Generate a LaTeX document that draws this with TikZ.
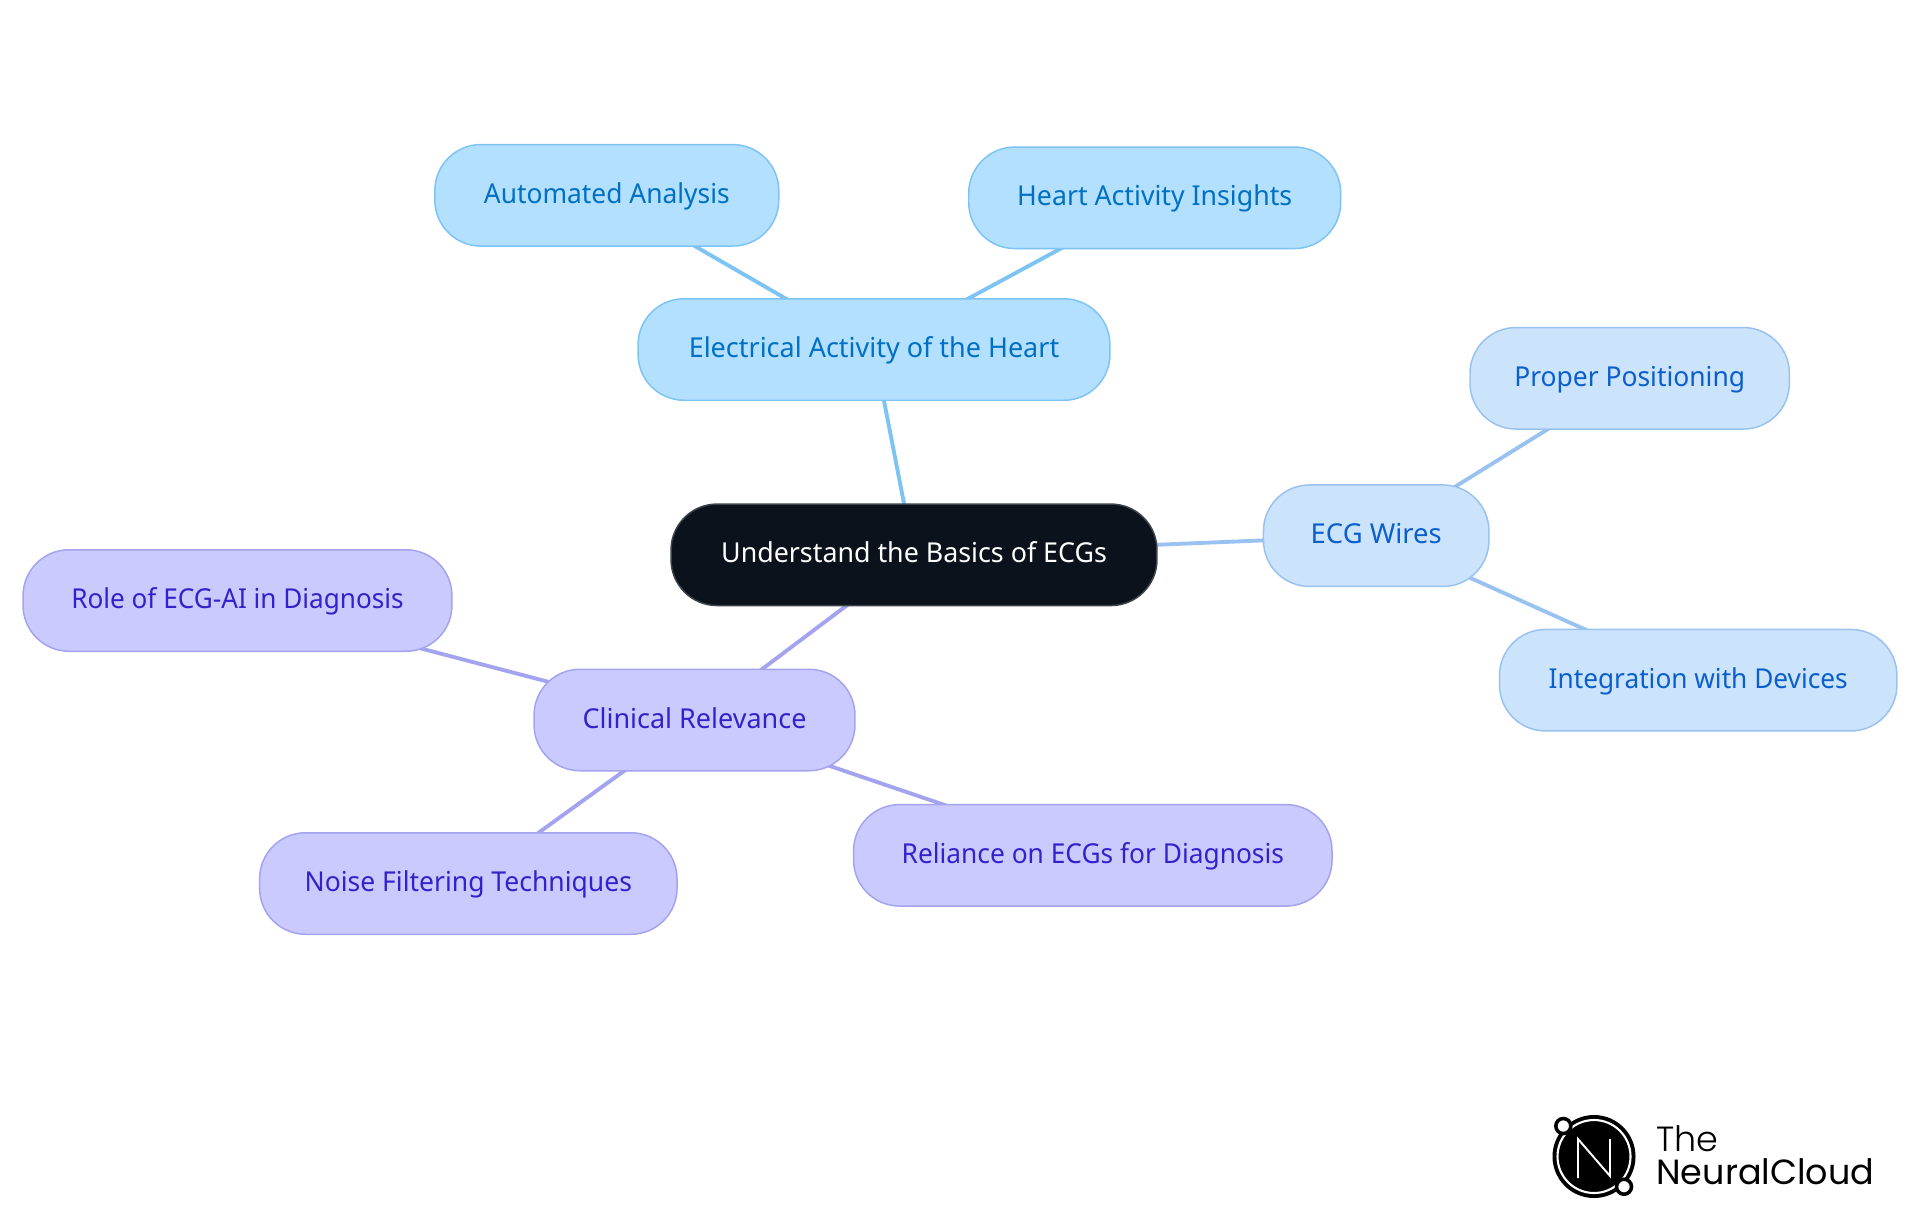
\documentclass[tikz,border=0pt]{standalone}
\usepackage{fontspec}
\setmainfont{Noto Sans}
\newfontfamily\logolight{Poppins Light}
\newfontfamily\logoreg{Poppins}
\usetikzlibrary{backgrounds}
\definecolor{blueFill}{HTML}{B3E0FF}
\definecolor{blueLine}{HTML}{7DC4F5}
\definecolor{blueText}{HTML}{0070C4}
\definecolor{wireFill}{HTML}{CCE3FC}
\definecolor{wireLine}{HTML}{99C2F0}
\definecolor{wireText}{HTML}{0A5FCC}
\definecolor{purpFill}{HTML}{CACAFF}
\definecolor{purpLine}{HTML}{A3A3F0}
\definecolor{purpText}{HTML}{3322CC}
\definecolor{rootFill}{HTML}{0B121B}
\definecolor{rootLine}{HTML}{3C434B}
\newcommand{\fitx}[2]{\scalebox{#1}[1]{#2}}
\tikzset{
  x=0.02cm,y=-0.02cm,
  pill/.style={rectangle,rounded corners=0.92cm,draw,line width=0.85pt,inner sep=0pt,
    minimum height=2.03cm,text height=12.7pt,text depth=3.4pt,font=\fontsize{15.6}{18}\selectfont},
  bluenode/.style={pill,fill=blueFill,draw=blueLine,text=blueText},
  wirenode/.style={pill,fill=wireFill,draw=wireLine,text=wireText},
  purpnode/.style={pill,fill=purpFill,draw=purpLine,text=purpText},
  rootnode/.style={pill,fill=rootFill,draw=rootLine,text=white},
  bluelink/.style={draw=blueLine,line width=2.2pt},
  wirelink/.style={draw=wireLine,line width=2.2pt},
  purplink/.style={draw=purpLine,line width=2.2pt},
}
\begin{document}
\begin{tikzpicture}
\useasboundingbox (0,0) rectangle (1920,1215);
\node[rootnode,minimum width=9.72cm] (root) at (914,554.8) {\fitx{0.978}{Understand the Basics of ECGs}};
\node[bluenode,minimum width=9.44cm] (elec) at (874,349.5) {\fitx{0.984}{Electrical Activity of the Heart}};
\node[bluenode,minimum width=6.88cm] (auto) at (606.8,195.3) {\fitx{0.962}{Automated Analysis}};
\node[bluenode,minimum width=7.44cm] (heart) at (1154.7,197.8) {\fitx{0.974}{Heart Activity Insights}};
\node[wirenode,minimum width=4.51cm] (wires) at (1376.2,535.7) {ECG Wires};
\node[wirenode,minimum width=6.39cm] (prop) at (1629.7,378.3) {\fitx{0.964}{Proper Positioning}};
\node[wirenode,minimum width=7.95cm] (integ) at (1698.2,680.2) {\fitx{0.957}{Integration with Devices}};
\node[purpnode,minimum width=6.42cm] (clin) at (694.5,720) {\fitx{0.984}{Clinical Relevance}};
\node[purpnode,minimum width=8.58cm] (role) at (237.5,600.5) {\fitx{0.954}{Role of ECG-AI in Diagnosis}};
\node[purpnode,minimum width=8.35cm] (noise) at (468.3,883.5) {\fitx{0.967}{Noise Filtering Techniques}};
\node[purpnode,minimum width=9.57cm] (rel) at (1092.8,855.3) {\fitx{0.96}{Reliance on ECGs for Diagnosis}};
\begin{pgfonlayer}{background}
\draw[bluelink] (root.center) -- (elec.center);
\draw[bluelink] (elec.center) -- (auto.center);
\draw[bluelink] (elec.center) -- (heart.center);
\draw[wirelink] (root.center) -- (wires.center);
\draw[wirelink] (wires.center) -- (prop.center);
\draw[wirelink] (wires.center) -- (integ.center);
\draw[purplink] (root.center) -- (clin.center);
\draw[purplink] (clin.center) -- (role.center);
\draw[purplink] (clin.center) -- (noise.center);
\draw[purplink] (clin.center) -- (rel.center);
\end{pgfonlayer}
% logo
\fill[black] (1594,1156.5) circle[radius=41.5];
\draw[white,line width=1.2pt] (1594,1156.5) circle[radius=36.5];
\draw[white,line width=1.1pt,line join=miter] (1578,1178) -- (1578,1139) -- (1610,1176) -- (1610,1139);
\draw[black,fill=white,line width=2pt] (1563.3,1126) circle[radius=7.5];
\draw[black,fill=white,line width=2pt] (1624,1186.7) circle[radius=7.5];
\node[anchor=base west,inner sep=0pt,font=\logolight\fontsize{19.9}{22}\selectfont] (the) at (1656,1151.7) {The};
\node[anchor=base west,inner sep=0pt,font=\logoreg\fontsize{19.9}{22}\selectfont] (nc) at (1656,1184) {NeuralCloud};
\end{tikzpicture}
\end{document}
